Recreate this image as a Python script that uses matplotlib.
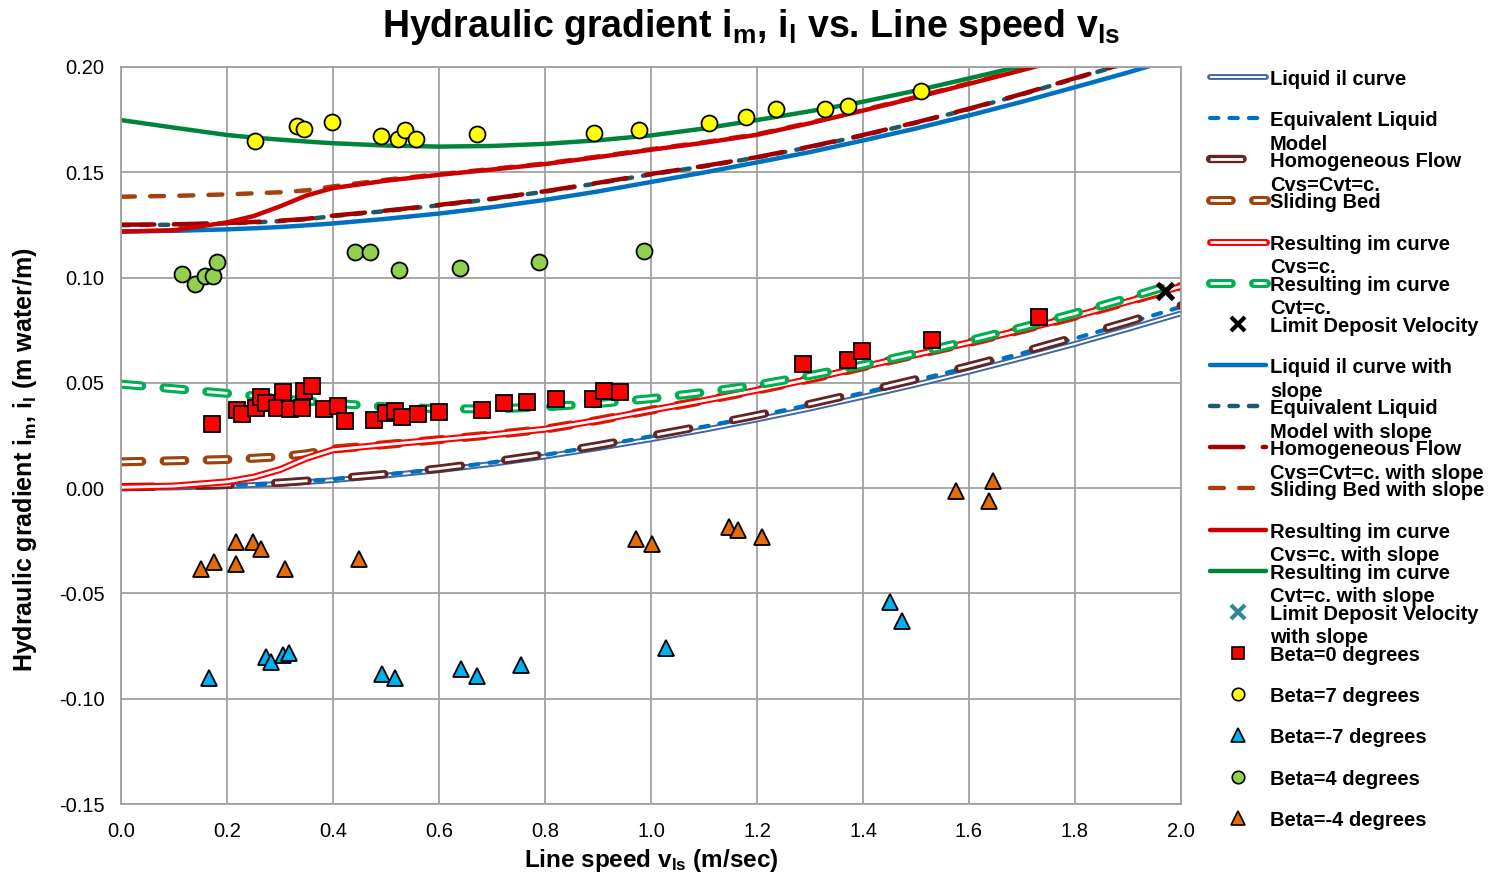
import numpy as np
import matplotlib
matplotlib.use("Agg")
import matplotlib.pyplot as plt
from matplotlib.lines import Line2D
from matplotlib.ticker import FormatStrFormatter, MultipleLocator

plt.rcParams['font.family'] = ['Liberation Sans', 'DejaVu Sans']
plt.rcParams['mathtext.fontset'] = 'custom'
plt.rcParams['mathtext.rm'] = 'Liberation Sans:bold'
plt.rcParams['mathtext.it'] = 'Liberation Sans:bold'
plt.rcParams['mathtext.bf'] = 'Liberation Sans:bold'
plt.rcParams['lines.scale_dashes'] = False

# Line speed grid for the model curves (m/sec)
v = [0.0, 0.1, 0.2, 0.25, 0.3, 0.35, 0.4, 0.5, 0.6, 0.7, 0.8, 0.9, 1.0,
     1.1, 1.2, 1.3, 1.4, 1.5, 1.6, 1.7, 1.8, 1.9, 2.0]

# Horizontal pipe (no slope)
il = [0.0, 0.0003, 0.001, 0.0015, 0.002, 0.0029, 0.0038, 0.006, 0.0085, 0.0115, 0.015, 0.019, 0.0232,
      0.0277, 0.0326, 0.0378, 0.0434, 0.0492, 0.0553, 0.0618, 0.0685, 0.0756, 0.083]
elm = [0.0004, 0.0007, 0.0014, 0.0018, 0.0024, 0.0033, 0.0043, 0.0065, 0.009, 0.0122, 0.0158, 0.02, 0.0246,
       0.0292, 0.0342, 0.0396, 0.0452, 0.0512, 0.0575, 0.064, 0.0711, 0.0784, 0.0861]
homog = [0.0005, 0.0008, 0.0015, 0.002, 0.0026, 0.0035, 0.0045, 0.0067, 0.0093, 0.0125, 0.0161, 0.0203, 0.0249,
         0.0296, 0.0346, 0.04, 0.0457, 0.0517, 0.058, 0.0646, 0.0717, 0.079, 0.0868]
sliding = [0.0125, 0.013, 0.0136, 0.0142, 0.0149, 0.0163, 0.0186, 0.0207, 0.023, 0.0253, 0.028, 0.0322, 0.037,
           0.0416, 0.0465, 0.0518, 0.0576, 0.0634, 0.0691, 0.0752, 0.0816, 0.0886, 0.0958]
res_cvs = [0.0004, 0.001, 0.003, 0.0052, 0.0088, 0.0142, 0.0182, 0.0207, 0.023, 0.0253, 0.028, 0.0322, 0.037,
           0.0416, 0.0465, 0.0518, 0.0576, 0.0634, 0.0691, 0.0752, 0.0816, 0.0886, 0.0958]
res_cvt = [0.0494, 0.0472, 0.045, 0.0438, 0.0425, 0.0414, 0.0403, 0.0386, 0.0377, 0.0376, 0.0386, 0.0402, 0.0425,
           0.0455, 0.049, 0.0535, 0.0585, 0.064, 0.07, 0.0763, 0.083, 0.0903, 0.098]

# Pipe with slope
il_s = [0.1219, 0.1222, 0.1229, 0.1234, 0.124, 0.1248, 0.1257, 0.1279, 0.1304, 0.1334, 0.1369, 0.1409, 0.1454,
        0.1499, 0.1547, 0.1596, 0.1651, 0.1708, 0.177, 0.1835, 0.1904, 0.1974, 0.2049]
elm_s = [0.1249, 0.1251, 0.1257, 0.1262, 0.1268, 0.1277, 0.1292, 0.1316, 0.1343, 0.1373, 0.1408, 0.1448, 0.149,
         0.1528, 0.157, 0.162, 0.1675, 0.1735, 0.18, 0.187, 0.1945, 0.202, 0.21]
homog_s = [0.1251, 0.1253, 0.1259, 0.1264, 0.127, 0.1279, 0.1294, 0.1318, 0.1345, 0.1375, 0.141, 0.145, 0.1492,
           0.153, 0.1572, 0.1622, 0.1677, 0.1737, 0.1802, 0.1872, 0.1947, 0.2022, 0.2102]
sliding_s = [0.1384, 0.1388, 0.1395, 0.14, 0.1405, 0.1414, 0.1433, 0.1465, 0.1491, 0.1516, 0.1542, 0.1575, 0.161,
             0.1643, 0.1681, 0.1736, 0.1796, 0.1858, 0.1923, 0.1988, 0.2055, 0.2123, 0.2193]
res_cvs_s = [0.1218, 0.1225, 0.1262, 0.1292, 0.1338, 0.139, 0.1425, 0.146, 0.1488, 0.1513, 0.1539, 0.1572, 0.1607,
             0.164, 0.1678, 0.1733, 0.1793, 0.1855, 0.192, 0.1985, 0.2052, 0.212, 0.219]
res_cvt_s = [0.1748, 0.1712, 0.1677, 0.1665, 0.1655, 0.1646, 0.1638, 0.1627, 0.1622, 0.1625, 0.1635, 0.1652, 0.1675,
             0.1708, 0.1748, 0.179, 0.1835, 0.1888, 0.1946, 0.2005, 0.207, 0.214, 0.221]

# Limit deposit velocity
ldv_v = [1.97]
ldv_i = [0.0936]

# Measurements
b0_v = [0.172, 0.219, 0.228, 0.255, 0.264, 0.274, 0.294, 0.306, 0.319, 0.342, 0.345, 0.360, 0.383, 0.409, 0.422,
        0.478, 0.5, 0.517, 0.531, 0.560, 0.600, 0.681, 0.722, 0.766, 0.820, 0.890, 0.912, 0.942,
        1.287, 1.372, 1.398, 1.530, 1.732]
b0_i = [0.0304, 0.0371, 0.0352, 0.0380, 0.0432, 0.0404, 0.0382, 0.0455, 0.0376, 0.0382, 0.0461, 0.0485, 0.0376,
        0.0390, 0.0320, 0.0323, 0.0359, 0.0368, 0.0340, 0.0352, 0.0361, 0.0371, 0.0404, 0.0409, 0.0425, 0.0425,
        0.0461, 0.0456, 0.0589, 0.0608, 0.0651, 0.0703, 0.0813]

b7_v = [0.253, 0.332, 0.345, 0.398, 0.490, 0.523, 0.535, 0.557, 0.672, 0.892, 0.978, 1.109, 1.179, 1.236, 1.328,
        1.372, 1.509]
b7_i = [0.1650, 0.1720, 0.1705, 0.1739, 0.1672, 0.1660, 0.1702, 0.1660, 0.1682, 0.1688, 0.1703, 0.1734, 0.1764,
        0.1800, 0.1800, 0.1815, 0.1884]

bm7_v = [0.166, 0.274, 0.283, 0.306, 0.317, 0.492, 0.517, 0.642, 0.672, 0.755, 1.028, 1.450, 1.474]
bm7_i = [-0.0900, -0.0800, -0.0826, -0.0793, -0.0784, -0.0885, -0.0900, -0.0860, -0.0892, -0.0840, -0.0757,
         -0.0543, -0.0633]

b4_v = [0.116, 0.140, 0.158, 0.173, 0.182, 0.442, 0.470, 0.524, 0.639, 0.788, 0.987]
b4_i = [0.1017, 0.0969, 0.1007, 0.1007, 0.1074, 0.1121, 0.1121, 0.1037, 0.1045, 0.1075, 0.1127]

bm4_v = [0.151, 0.175, 0.217, 0.217, 0.249, 0.264, 0.309, 0.449, 0.972, 1.001, 1.147, 1.165, 1.210, 1.575,
         1.638, 1.646]
bm4_i = [-0.0385, -0.0350, -0.0256, -0.0360, -0.0256, -0.0288, -0.0385, -0.0335, -0.0241, -0.0264, -0.0185,
         -0.0198, -0.0230, -0.0012, -0.0063, 0.0032]


# Line styles (used for the curves and for the legend handles)
styles = {
    'il':        dict(color='#4068a0', lw=4.2, inner=1.4),
    'elm':       dict(color='#0070c0', lw=3.0, dashes=(6, 8)),
    'homog':     dict(color='#632523', lw=6.0, inner=2.0, dashes=(23.5, 32)),
    'sliding':   dict(color='#9c440e', lw=6.5, inner=2.0, dashes=(15, 16)),
    'res_cvs':   dict(color='#ff0000', lw=5.0, inner=2.0),
    'res_cvt':   dict(color='#00b050', lw=6.5, inner=2.0, dashes=(15, 16)),
    'il_s':      dict(color='#0070c0', lw=3.2),
    'elm_s':     dict(color='#215968', lw=3.2, dashes=(6, 8)),
    'homog_s':   dict(color='#a00000', lw=3.2, dashes=(24, 14)),
    'sliding_s': dict(color='#a3420f', lw=3.2, dashes=(10, 11)),
    'res_cvs_s': dict(color='#cc0000', lw=3.2),
    'res_cvt_s': dict(color='#00843c', lw=3.2),
}


def draw_line(target, x, y, st, **kw):
    dash = st.get('dashes')
    extra = dict(solid_capstyle='round', dash_capstyle='round')
    if dash is not None:
        extra['dashes'] = dash
    line = Line2D(x, y, color=st['color'], lw=st['lw'], **extra, **kw)
    target.add_artist(line) if kw.get('transform') is not None else target.add_line(line)
    if 'inner' in st:
        extra2 = dict(solid_capstyle='butt', dash_capstyle='butt')
        if dash is not None:
            extra2['dashes'] = dash
        line2 = Line2D(x, y, color='white', lw=st['inner'], **extra2, **kw)
        target.add_artist(line2) if kw.get('transform') is not None else target.add_line(line2)


fig = plt.figure(figsize=(15.02, 8.77), dpi=100)
ax = fig.add_axes([121 / 1502, 1 - 804 / 877, 1060 / 1502, 737 / 877])

# Curves, horizontal pipe
draw_line(ax, v, il, styles['il'])
draw_line(ax, v, elm, styles['elm'])
draw_line(ax, v, homog, styles['homog'])
draw_line(ax, v, sliding, styles['sliding'])
draw_line(ax, v, res_cvs, styles['res_cvs'])
draw_line(ax, v, res_cvt, styles['res_cvt'])

# Curves with slope
draw_line(ax, v, il_s, styles['il_s'])
draw_line(ax, v, elm_s, styles['elm_s'])
draw_line(ax, v, homog_s, styles['homog_s'])
draw_line(ax, v, sliding_s, styles['sliding_s'])
draw_line(ax, v, res_cvs_s, styles['res_cvs_s'])
draw_line(ax, v, res_cvt_s, styles['res_cvt_s'])

ax.plot(ldv_v, ldv_i, 'x', color='black', ms=12, mew=3.5, zorder=6)

# Measured points
mk = dict(ls='none', mec='black', mew=1.3, zorder=5)
ax.plot(b0_v, b0_i, 's', mfc='#ff0000', ms=11, **mk)
ax.plot(b7_v, b7_i, 'o', mfc='#ffff00', ms=11.5, **mk)
ax.plot(bm7_v, bm7_i, '^', mfc='#00b0f0', ms=12, **mk)
ax.plot(b4_v, b4_i, 'o', mfc='#92d050', ms=11.5, **mk)
ax.plot(bm4_v, bm4_i, '^', mfc='#e46c0a', ms=12, **mk)

# Axes
ax.set_xlim(0, 2.0)
ax.set_ylim(-0.15, 0.20)
ax.xaxis.set_major_locator(MultipleLocator(0.2))
ax.yaxis.set_major_locator(MultipleLocator(0.05))
ax.xaxis.set_major_formatter(FormatStrFormatter('%.1f'))
ax.yaxis.set_major_formatter(FormatStrFormatter('%.2f'))
ax.grid(True, color='#a0a0a0', lw=1.3)
ax.set_axisbelow(True)
for sp in ax.spines.values():
    sp.set_color('#a0a0a0')
    sp.set_linewidth(1.3)
ax.tick_params(length=0, labelsize=14.5)
ax.tick_params(axis='x', pad=13)
ax.tick_params(axis='y', pad=12)

ax.set_xlabel('Line speed v$_{ls}$ (m/sec)', fontsize=17.5, fontweight='bold', va='center')
ax.xaxis.set_label_coords(0.5, -0.077)
ax.set_ylabel('Hydraulic gradient i$_m$, i$_l$ (m water/m)', fontsize=18, fontweight='bold', va='center')
ax.yaxis.set_label_coords(-0.091, 0.467)

fig.text(0.5, 1 - 27 / 877, 'Hydraulic gradient i$_m$, i$_l$ vs. Line speed v$_{ls}$',
         ha='center', va='center', fontsize=27, fontweight='bold')

# Legend (drawn by hand so the wrapped labels sit like the original)
legend_items = [
    ('line', 'il', 'Liquid il curve'),
    ('line', 'elm', 'Equivalent Liquid\nModel'),
    ('line', 'homog', 'Homogeneous Flow\nCvs=Cvt=c.'),
    ('line', 'sliding', 'Sliding Bed'),
    ('line', 'res_cvs', 'Resulting im curve\nCvs=c.'),
    ('line', 'res_cvt', 'Resulting im curve\nCvt=c.'),
    ('mark', dict(marker='x', color='black', ms=10, mew=3), 'Limit Deposit Velocity'),
    ('line', 'il_s', 'Liquid il curve with\nslope'),
    ('line', 'elm_s', 'Equivalent Liquid\nModel with slope'),
    ('line', 'homog_s', 'Homogeneous Flow\nCvs=Cvt=c. with slope'),
    ('line', 'sliding_s', 'Sliding Bed with slope'),
    ('line', 'res_cvs_s', 'Resulting im curve\nCvs=c. with slope'),
    ('line', 'res_cvt_s', 'Resulting im curve\nCvt=c. with slope'),
    ('mark', dict(marker='x', color='#31859c', ms=10, mew=3), 'Limit Deposit Velocity\nwith slope'),
    ('mark', dict(marker='s', mfc='#ff0000', mec='black', ms=9, mew=1.2), 'Beta=0 degrees'),
    ('mark', dict(marker='o', mfc='#ffff00', mec='black', ms=9, mew=1.2), 'Beta=7 degrees'),
    ('mark', dict(marker='^', mfc='#00b0f0', mec='black', ms=10, mew=1.2), 'Beta=-7 degrees'),
    ('mark', dict(marker='o', mfc='#92d050', mec='black', ms=9, mew=1.2), 'Beta=4 degrees'),
    ('mark', dict(marker='^', mfc='#e46c0a', mec='black', ms=10, mew=1.2), 'Beta=-4 degrees'),
]

W, H = 1502, 877
y0, dy = 77, 41.15
for k, (kind, st, label) in enumerate(legend_items):
    yp = y0 + k * dy
    yf = 1 - yp / H
    if kind == 'line':
        draw_line(fig, [1210 / W, 1266 / W], [yf, yf], styles[st], transform=fig.transFigure)
    else:
        fig.add_artist(Line2D([1238 / W], [yf], ls='none', transform=fig.transFigure, **st))
    fig.text(1270 / W, 1 - (yp - 7) / H, label, ha='left', va='top', fontsize=14.5,
             fontweight='bold', linespacing=1.3)

fig.savefig('out.png', dpi=100)
